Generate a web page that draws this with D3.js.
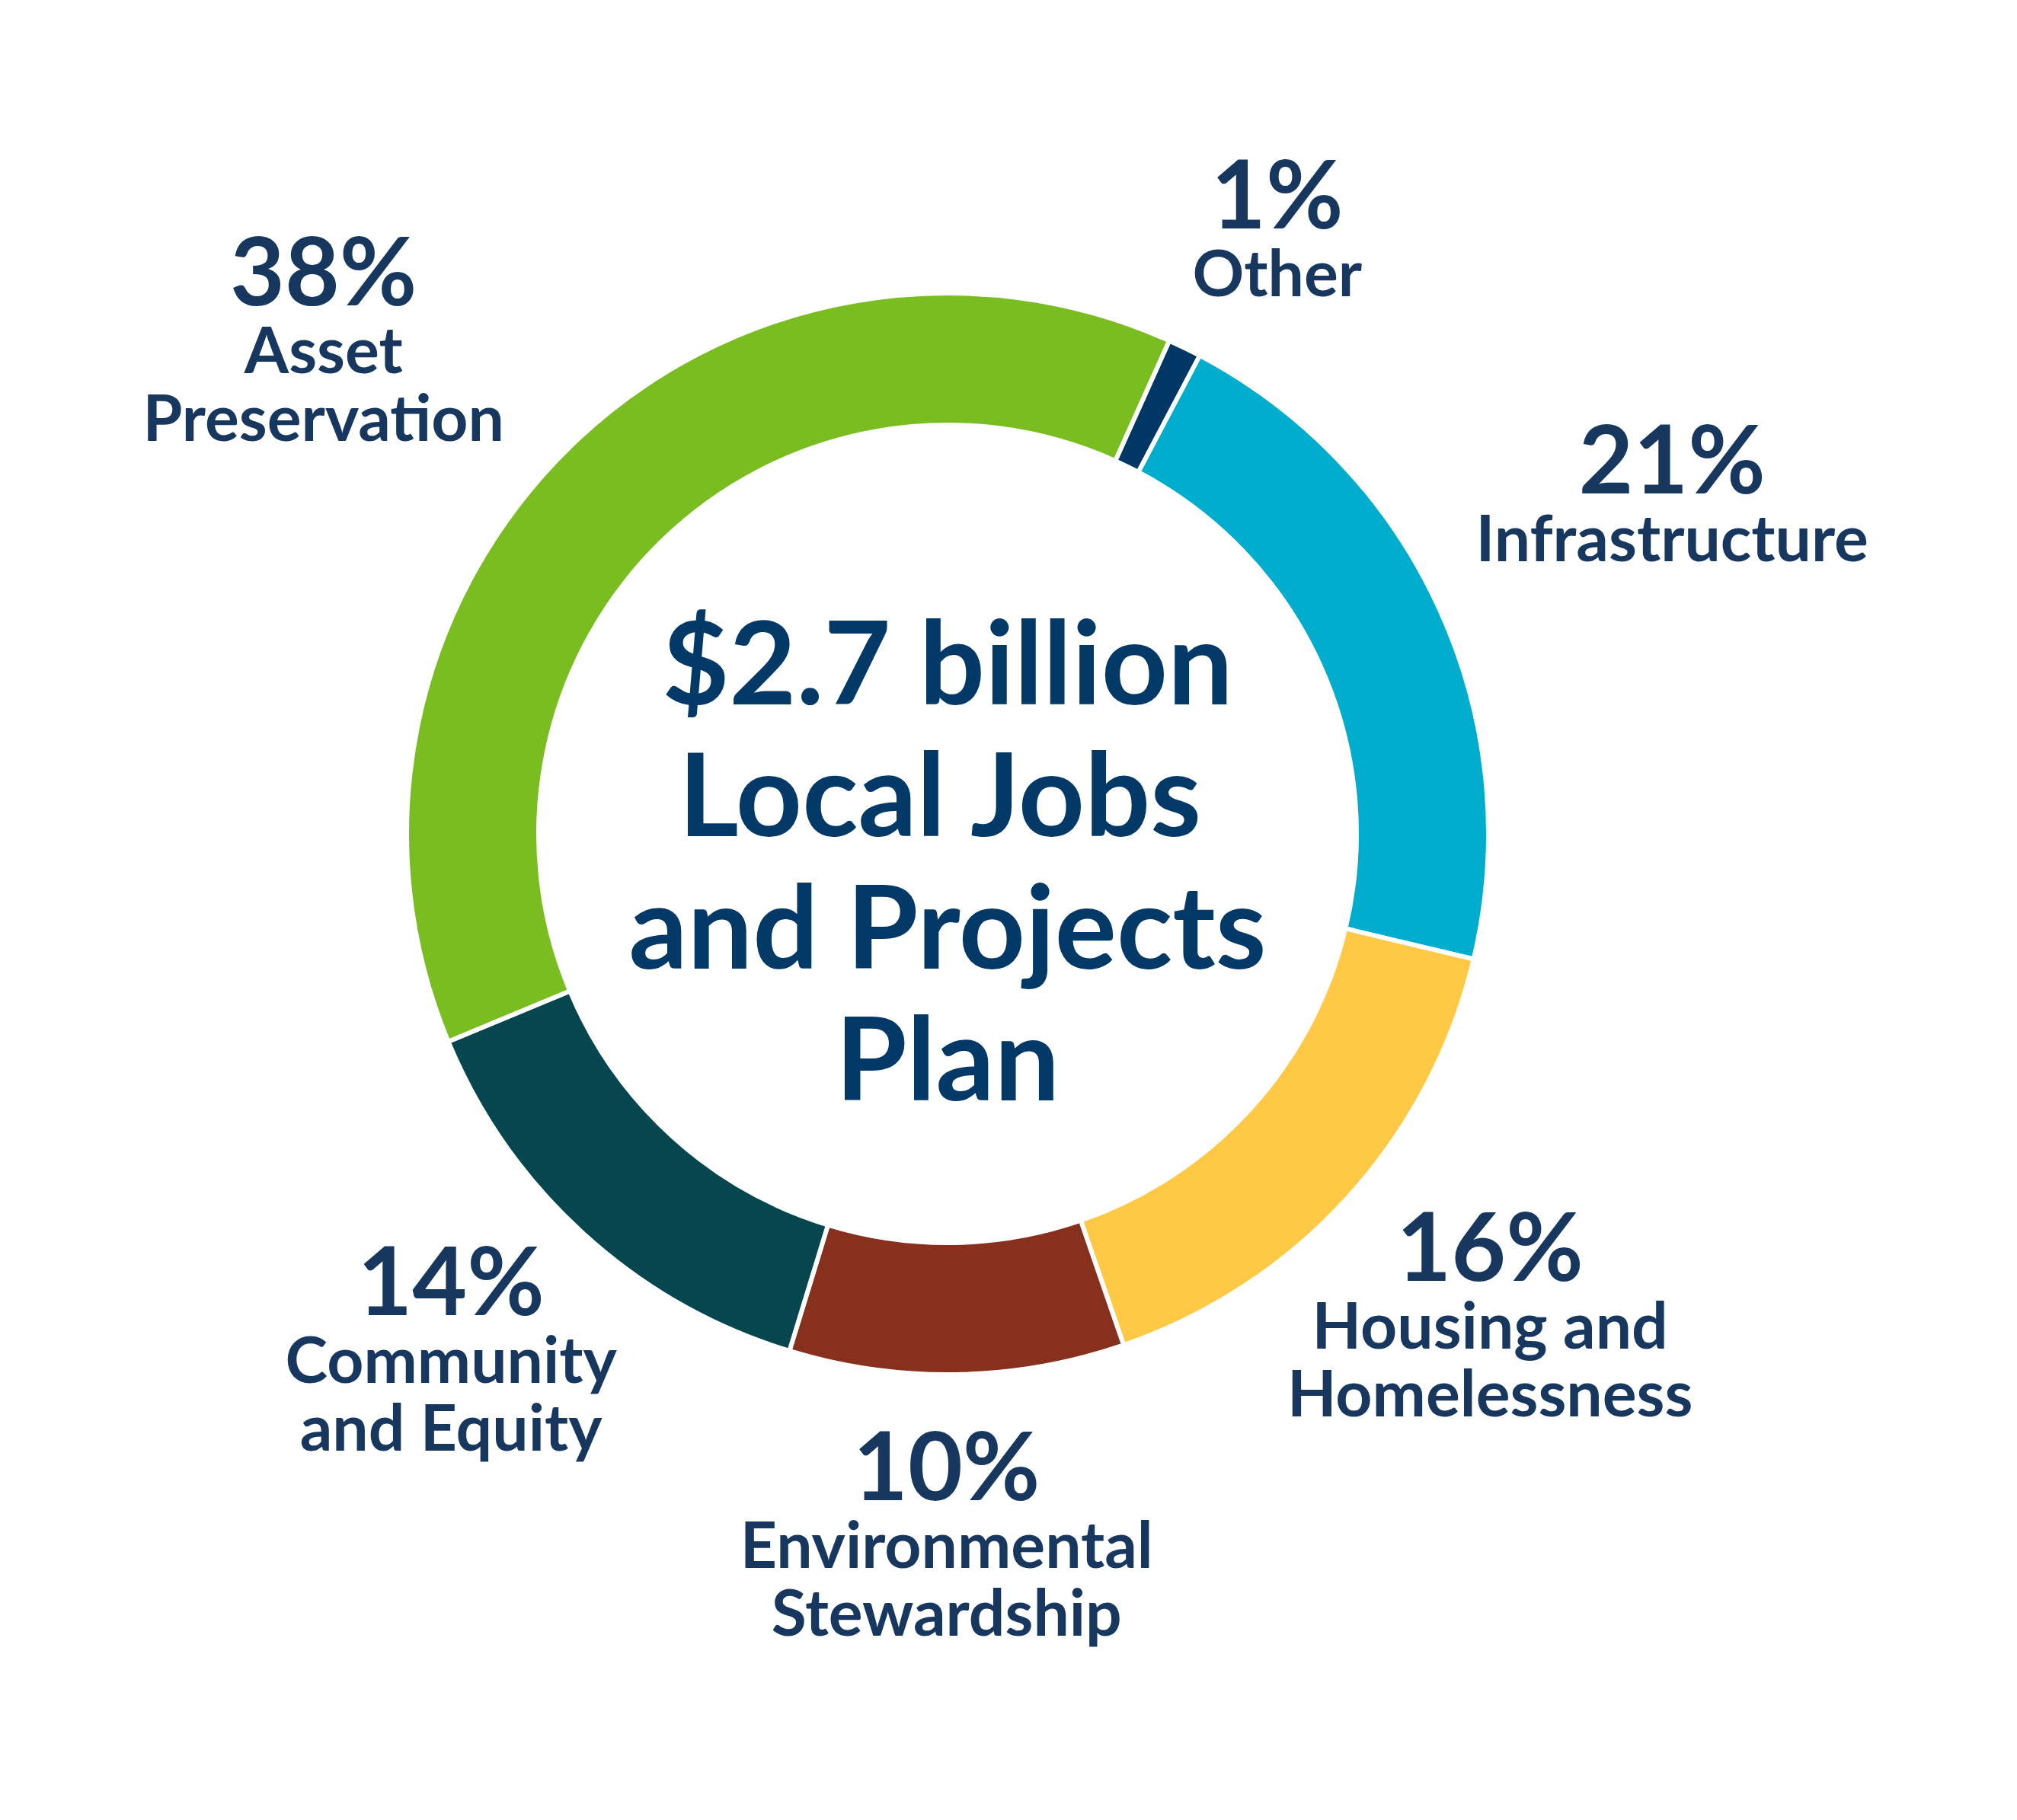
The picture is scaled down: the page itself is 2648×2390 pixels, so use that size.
<!DOCTYPE html>
<html>
<head>
<meta charset="utf-8">
<script src="https://cdn.jsdelivr.net/npm/d3@7"></script>
<style>
  html, body { margin: 0; padding: 0; background: #ffffff; }
  svg { display: block; }
</style>
</head>
<body>
<svg id="drawing_region"></svg>
<script>
// data
var categories = ['Other', 'Infrastructure', 'Housing and Homelessness', 'Environmental Stewardship', 'Community and Equity', 'Asset Preservation'];
var shares = [1, 21, 16, 10, 14, 38];
var labelLines = [
    ['Other'],
    ['Infrastructure'],
    ['Housing and', 'Homelessness'],
    ['Environmental', 'Stewardship'],
    ['Community', 'and Equity'],
    ['Asset', 'Preservation']
];
var centerTitle = ['$2.7 billion', 'Local Jobs', 'and Projects', 'Plan'];

var Config = {
    parent: '#drawing_region',
    width: 2648,
    height: 2390,
    cx: 1244,
    cy: 1095,
    outer: 710,
    inner: 537,
    start: 24.2 * Math.PI / 180,
    colors: ['#003764', '#00adcc', '#ffc845', '#86301d', '#05464f', '#7abd21'],
    labelRadius: 960,
    // small nudges so each text block sits where the original put it
    nudge: [[12, 65], [77, -53], [1, -16], [-18, -43], [-7, -37], [-150, 36]]
};

class RingChart {
    constructor(config) {
        this.config = config;
        this.data = categories.map((c, i) => ({ name: c, value: shares[i], lines: labelLines[i], i: i }));
        this.init();
    }

    init() {
        let self = this;
        self.svg = d3.select(self.config.parent)
            .attr('width', self.config.width)
            .attr('height', self.config.height);

        self.svg.append('rect')
            .attr('width', self.config.width)
            .attr('height', self.config.height)
            .attr('fill', '#ffffff');

        self.chart = self.svg.append('g')
            .attr('transform', `translate(${self.config.cx}, ${self.config.cy})`);

        self.color = d3.scaleOrdinal().domain(categories).range(self.config.colors);
    }

    update() {
        let self = this;
        const cfg = self.config;

        const pie = d3.pie()
            .sort(null)
            .value(d => d.value)
            .startAngle(cfg.start)
            .endAngle(cfg.start + 2 * Math.PI);
        const arcs = pie(self.data);

        const arc = d3.arc().innerRadius(cfg.inner).outerRadius(cfg.outer);
        const labelArc = d3.arc().innerRadius(cfg.labelRadius).outerRadius(cfg.labelRadius);

        self.chart.selectAll('path')
            .data(arcs)
            .join('path')
            .attr('d', arc)
            .attr('fill', d => self.color(d.data.name))
            .attr('stroke', '#ffffff')
            .attr('stroke-width', 6)
            .attr('stroke-linejoin', 'miter');

        // percentage + name blocks around the ring
        const lineGap = 89;
        const blocks = self.chart.selectAll('g.label')
            .data(arcs)
            .join('g')
            .attr('class', 'label')
            .attr('transform', d => {
                const c = labelArc.centroid(d);
                const n = cfg.nudge[d.data.i];
                return `translate(${c[0] + n[0]}, ${c[1] + n[1]})`;
            });

        blocks.each(function (d) {
            const g = d3.select(this);
            const n = d.data.lines.length;
            const pb = -(lineGap * n - 94) / 2;
            g.append('text')
                .attr('x', 0)
                .attr('y', pb)
                .attr('text-anchor', 'middle')
                .attr('font-family', 'Lato, sans-serif')
                .attr('font-weight', 700)
                .attr('font-size', 124)
                .attr('fill', '#18375f')
                .text(d.data.value + '%');
            d.data.lines.forEach((t, k) => {
                g.append('text')
                    .attr('x', 0)
                    .attr('y', pb + lineGap * (k + 1))
                    .attr('text-anchor', 'middle')
                    .attr('font-family', 'Lato, sans-serif')
                    .attr('font-weight', 700)
                    .attr('font-size', 84)
                    .attr('fill', '#18375f')
                    .text(t);
            });
        });

        // title in the hole
        self.chart.selectAll('text.title')
            .data(centerTitle)
            .join('text')
            .attr('class', 'title')
            .attr('x', (d, i) => i === 1 ? -10 : 0)
            .attr('y', (d, i) => -170 + i * 173.3)
            .attr('text-anchor', 'middle')
            .attr('font-family', 'Lato, sans-serif')
            .attr('font-weight', 700)
            .attr('font-size', 152)
            .attr('fill', '#033966')
            .text(d => d);
    }
}

const ring_chart = new RingChart(Config);
ring_chart.update();
</script>
</body>
</html>
